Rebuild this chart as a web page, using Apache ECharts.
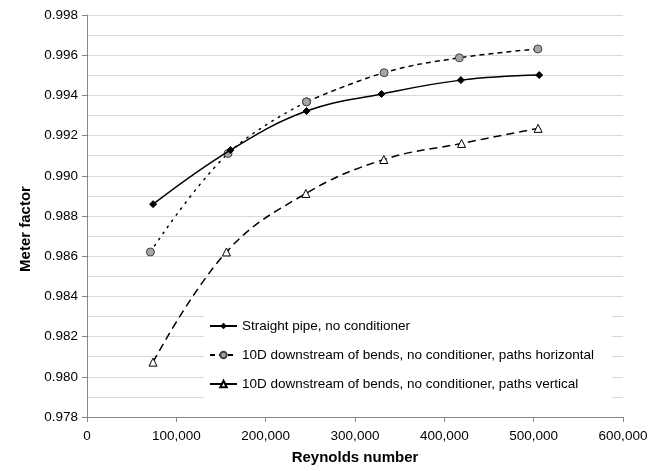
<!DOCTYPE html>
<html><head><meta charset="utf-8">
<script src="https://cdn.jsdelivr.net/npm/echarts@6/dist/echarts.min.js"></script>
<style>html,body{margin:0;padding:0;background:#fff}#c{width:663px;height:471px}</style>
</head><body><div id="c"></div>
<script>
const seriesNames = [
  'Straight pipe, no conditioner',
  '10D downstream of bends, no conditioner, paths horizontal',
  '10D downstream of bends, no conditioner, paths vertical'
];
const straightX = [74000, 160600, 245700, 329700, 418500, 506200];
const straightY = [0.98859, 0.99128, 0.99322, 0.99407, 0.99476, 0.99501];
const horizX = [71000, 157900, 245700, 332600, 416800, 504700];
const horizY = [0.98621, 0.99111, 0.99368, 0.99513, 0.99587, 0.99631];
const vertX = [73900, 156100, 245000, 332300, 419300, 505000];
const vertY = [0.98073, 0.98621, 0.98912, 0.99081, 0.99161, 0.99236];
const xTicks = [0, 100000, 200000, 300000, 400000, 500000, 600000];
const yTicks = [0.978, 0.980, 0.982, 0.984, 0.986, 0.988, 0.990, 0.992, 0.994, 0.996, 0.998];

const pairs = (xs, ys) => xs.map((x, i) => [x, ys[i]]);
const FONT = 'Liberation Sans';
const horizPairs = pairs(horizX, horizY);

const chart = echarts.init(document.getElementById('c'), null, {renderer: 'canvas'});
chart.setOption({
  animation: false,
  backgroundColor: '#fff',
  textStyle: {fontFamily: FONT},
  grid: {left: 87, right: 40, top: 15, bottom: 54, containLabel: false},
  legend: {
    orient: 'vertical',
    left: 204, top: 308,
    padding: [11, 18, 14, 5],
    itemGap: 15,
    itemWidth: 27, itemHeight: 8,
    backgroundColor: '#fff',
    textStyle: {fontFamily: FONT, fontSize: 13.5, color: '#000'},
    data: [
      {name: seriesNames[0]},
      {name: seriesNames[1]},
      {name: seriesNames[2], lineStyle: {type: 'solid'}}
    ]
  },
  xAxis: {
    type: 'value',
    min: xTicks[0], max: xTicks[xTicks.length - 1], interval: xTicks[1] - xTicks[0],
    name: 'Reynolds number', nameLocation: 'middle', nameGap: 33,
    nameTextStyle: {fontFamily: FONT, fontSize: 15, fontWeight: 'bold', color: '#000'},
    axisLine: {show: true, lineStyle: {color: '#868686', width: 1}},
    axisTick: {show: true, inside: false, length: 5, lineStyle: {color: '#868686'}},
    axisLabel: {fontFamily: FONT, fontSize: 13.5, color: '#000', margin: 12,
      formatter: v => v.toLocaleString('en-US')},
    splitLine: {show: false}
  },
  yAxis: {
    type: 'value',
    min: yTicks[0], max: yTicks[yTicks.length - 1], interval: yTicks[1] - yTicks[0],
    name: 'Meter factor', nameLocation: 'middle', nameGap: 48,
    nameTextStyle: {fontFamily: FONT, fontSize: 15, fontWeight: 'bold', color: '#000', padding: [0, 26, 0, 0]},
    axisLine: {show: true, lineStyle: {color: '#868686', width: 1}},
    axisTick: {show: true, inside: false, length: 5, lineStyle: {color: '#868686'}},
    minorTick: {show: false, splitNumber: 2},
    minorSplitLine: {show: true, lineStyle: {color: '#d9d9d9', width: 1}},
    axisLabel: {fontFamily: FONT, fontSize: 13.5, color: '#000', margin: 9,
      formatter: v => v.toFixed(3)},
    splitLine: {show: true, lineStyle: {color: '#d9d9d9', width: 1}}
  },
  series: [
    {
      name: seriesNames[0], type: 'line', smooth: 0.4,
      data: pairs(straightX, straightY),
      symbol: 'diamond', symbolSize: 7,
      itemStyle: {color: '#000', borderColor: '#000'},
      lineStyle: {color: '#000', width: 1.5, type: 'solid'},
      z: 3
    },
    {
      name: 'horiz-dotted', type: 'line', smooth: 0.4,
      data: horizPairs.slice(0, 3),
      symbol: 'circle', symbolSize: 8,
      itemStyle: {color: '#a6a6a6', borderColor: '#404040', borderWidth: 1},
      lineStyle: {color: '#000', width: 1.5, type: [1.5, 6], cap: 'round'},
      z: 2
    },
    {
      name: seriesNames[1], type: 'line', smooth: 0.4,
      data: horizPairs.slice(2),
      symbol: 'circle', symbolSize: 8,
      itemStyle: {color: '#a6a6a6', borderColor: '#404040', borderWidth: 1},
      lineStyle: {color: '#000', width: 1.5, type: [5, 4]},
      z: 2
    },
    {
      name: seriesNames[2], type: 'line', smooth: 0.4,
      data: pairs(vertX, vertY),
      symbol: 'triangle', symbolSize: 8,
      itemStyle: {color: '#fff', borderColor: '#000', borderWidth: 1},
      lineStyle: {color: '#000', width: 1.5, type: [8, 5]},
      z: 2
    }
  ]
});
</script>
</body></html>
